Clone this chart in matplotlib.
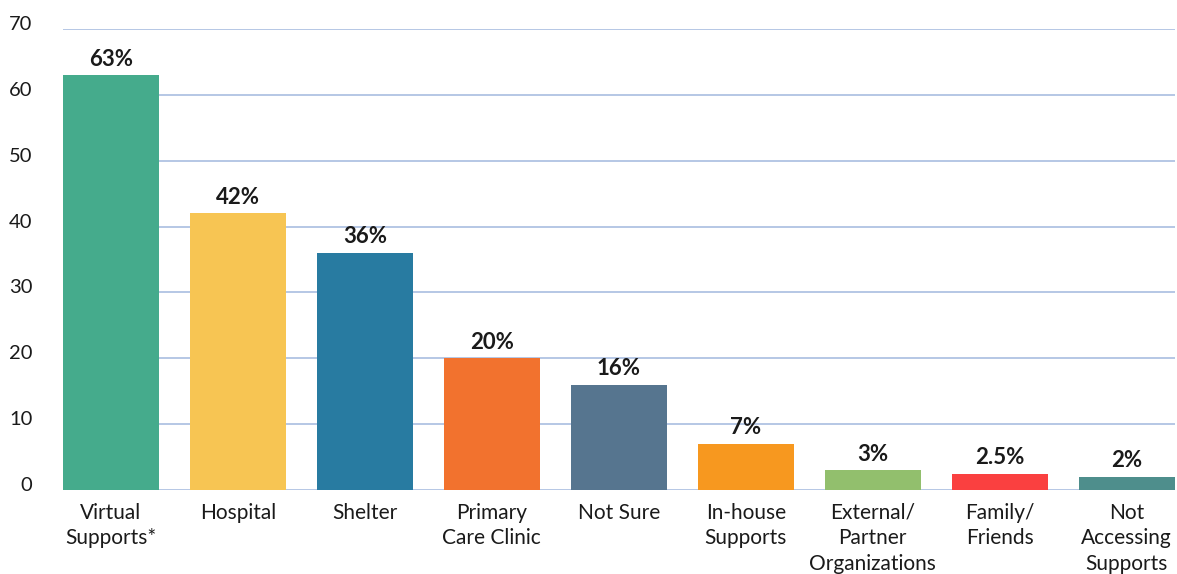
import numpy as np
import matplotlib.pyplot as plt
import matplotlib.transforms as mtransforms

categories = ["Virtual\nSupports*", "Hospital", "Shelter", "Primary\nCare Clinic",
              "Not Sure", "In-house\nSupports", "External/\nPartner\nOrganizations",
              "Family/\nFriends", "Not\nAccessing\nSupports"]
values = [63, 42, 36, 20, 16, 7, 3, 2.5, 2]
labels = ["63%", "42%", "36%", "20%", "16%", "7%", "3%", "2.5%", "2%"]
colors = ["#45AB8C", "#F7C553", "#287BA1", "#F2722E", "#56758F",
          "#F7981F", "#92BF6D", "#FA4040", "#4E8E8C"]

plt.rcParams['font.family'] = ['Lato', 'DejaVu Sans']

fig = plt.figure(figsize=(11.77, 5.74), dpi=100)
ax = fig.add_axes([0.0535, 0.1463, 0.9445, 0.8032])

x = np.arange(len(categories))
width = 0.755
bars = ax.bar(x, values, width=width, color=colors, zorder=2)

for rect, lab in zip(bars, labels):
    ax.annotate(lab, (rect.get_x() + rect.get_width() / 2, rect.get_height()),
                xytext=(0, 4), textcoords='offset points', ha='center', va='bottom',
                fontsize=16, fontweight='bold', color='#1a1a1a')

ax.set_xlim(-width / 2, len(categories) - 1 + width / 2)
ax.set_ylim(0, 70)
ax.set_yticks(range(0, 71, 10))
ax.grid(axis='y', color='#a9bde0', linewidth=1.2, zorder=0)
ax.set_axisbelow(True)

ax.set_xticks(x)
ax.set_xticklabels(categories, fontsize=15, color='#1a1a1a', linespacing=1.36, va='top')
ax.tick_params(axis='x', length=0, pad=9)
ax.tick_params(axis='y', length=0, pad=22, labelsize=14.5, labelcolor='#1a1a1a')

# y labels sit a little above their grid lines
shift = mtransforms.ScaledTranslation(0, 6 / 100, fig.dpi_scale_trans)
for t in ax.get_yticklabels():
    t.set_transform(t.get_transform() + shift)

for s in ax.spines.values():
    s.set_visible(False)

fig.savefig("out.png", dpi=100)
